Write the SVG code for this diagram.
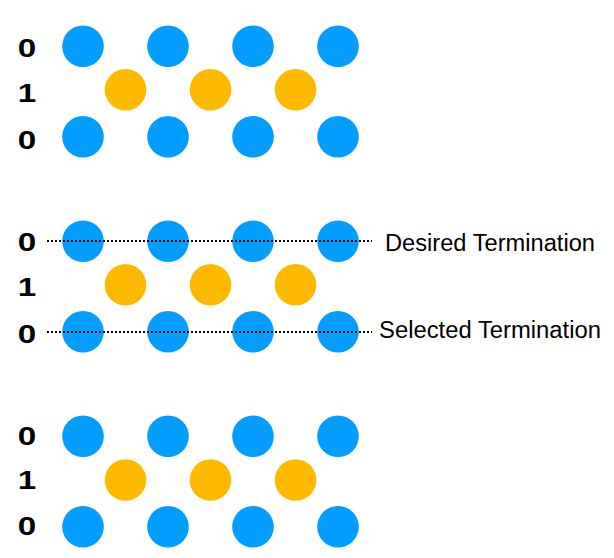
<svg xmlns="http://www.w3.org/2000/svg" width="614" height="558" viewBox="0 0 614 558">
<style>
.b{fill:#029DFF}
.y{fill:#FFBA00}
.lbl{font-family:"Liberation Sans",Arial,sans-serif;font-weight:bold;font-size:26px;fill:#000;text-anchor:middle}
.ann{font-family:"Liberation Sans",Arial,sans-serif;font-size:23px;fill:#000}
.dot{stroke:#000;stroke-width:2;stroke-dasharray:2 2;fill:none}
</style>
<rect width="614" height="558" fill="#fff"/>
<g id="labels">
<text class="lbl" x="27" y="57" textLength="18.5" lengthAdjust="spacingAndGlyphs">0</text>
<text class="lbl" x="27" y="101.5" textLength="18.5" lengthAdjust="spacingAndGlyphs">1</text>
<text class="lbl" x="27" y="148.5" textLength="18.5" lengthAdjust="spacingAndGlyphs">0</text>
<text class="lbl" x="27" y="251" textLength="18.5" lengthAdjust="spacingAndGlyphs">0</text>
<text class="lbl" x="27" y="295.5" textLength="18.5" lengthAdjust="spacingAndGlyphs">1</text>
<text class="lbl" x="27" y="342.5" textLength="18.5" lengthAdjust="spacingAndGlyphs">0</text>
<text class="lbl" x="27" y="445" textLength="18.5" lengthAdjust="spacingAndGlyphs">0</text>
<text class="lbl" x="27" y="489" textLength="18.5" lengthAdjust="spacingAndGlyphs">1</text>
<text class="lbl" x="27" y="535" textLength="18.5" lengthAdjust="spacingAndGlyphs">0</text>
</g>
<g id="top">
<circle class="b" cx="83" cy="46.3" r="20.8"/><circle class="b" cx="168" cy="46.3" r="20.8"/><circle class="b" cx="253" cy="46.3" r="20.8"/><circle class="b" cx="338" cy="46.3" r="20.8"/>
<circle class="y" cx="125.5" cy="89.8" r="20.8"/><circle class="y" cx="210.5" cy="89.8" r="20.8"/><circle class="y" cx="295.5" cy="89.8" r="20.8"/>
<circle class="b" cx="83" cy="136.8" r="20.8"/><circle class="b" cx="168" cy="136.8" r="20.8"/><circle class="b" cx="253" cy="136.8" r="20.8"/><circle class="b" cx="338" cy="136.8" r="20.8"/>
</g>
<g id="middle">
<circle class="b" cx="83" cy="241.3" r="20.8"/><circle class="b" cx="168" cy="241.3" r="20.8"/><circle class="b" cx="253" cy="241.3" r="20.8"/><circle class="b" cx="338" cy="241.3" r="20.8"/>
<circle class="y" cx="125.5" cy="284.8" r="20.8"/><circle class="y" cx="210.5" cy="284.8" r="20.8"/><circle class="y" cx="295.5" cy="284.8" r="20.8"/>
<circle class="b" cx="83" cy="331.8" r="20.8"/><circle class="b" cx="168" cy="331.8" r="20.8"/><circle class="b" cx="253" cy="331.8" r="20.8"/><circle class="b" cx="338" cy="331.8" r="20.8"/>
</g>
<g id="bottom">
<circle class="b" cx="83" cy="436.2" r="20.8"/><circle class="b" cx="168" cy="436.2" r="20.8"/><circle class="b" cx="253" cy="436.2" r="20.8"/><circle class="b" cx="338" cy="436.2" r="20.8"/>
<circle class="y" cx="125.5" cy="480" r="20.8"/><circle class="y" cx="210.5" cy="480" r="20.8"/><circle class="y" cx="295.5" cy="480" r="20.8"/>
<circle class="b" cx="83" cy="526.7" r="20.8"/><circle class="b" cx="168" cy="526.7" r="20.8"/><circle class="b" cx="253" cy="526.7" r="20.8"/><circle class="b" cx="338" cy="526.7" r="20.8"/>
</g>
<g id="connectors">
<line class="dot" x1="47" y1="241" x2="372" y2="241"/>
<line class="dot" x1="47" y1="332" x2="372" y2="332"/>
</g>
<g id="annotations">
<text class="ann" x="385" y="250.7" textLength="210" lengthAdjust="spacingAndGlyphs">Desired Termination</text>
<text class="ann" x="379" y="338.3" textLength="222" lengthAdjust="spacingAndGlyphs">Selected Termination</text>
</g>
</svg>
